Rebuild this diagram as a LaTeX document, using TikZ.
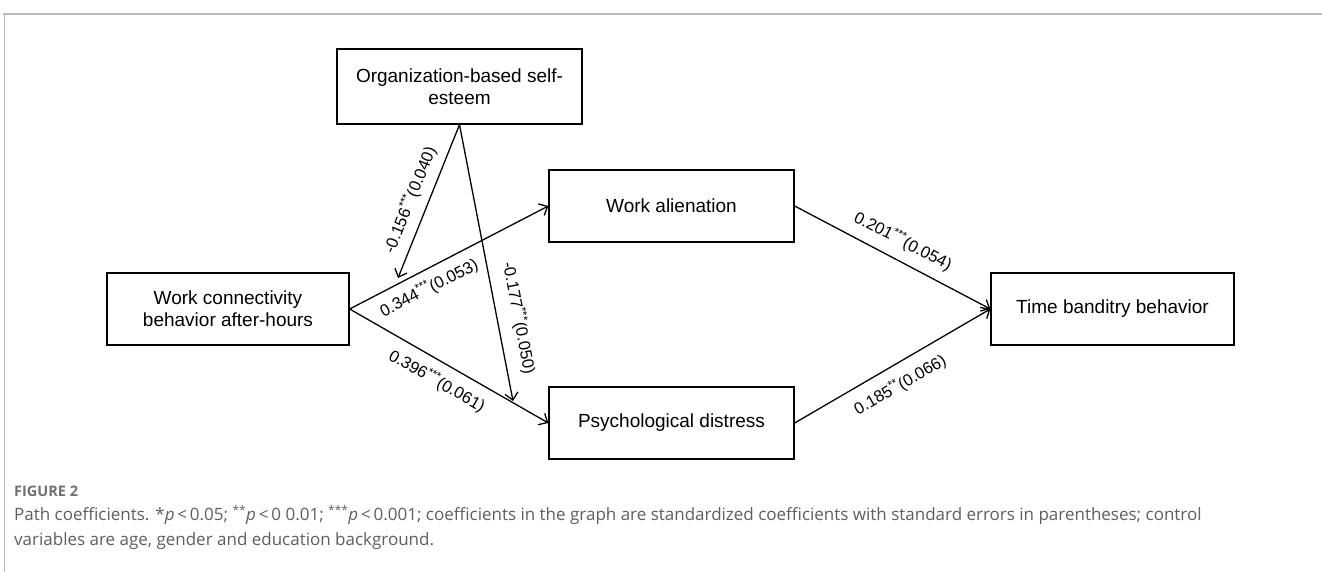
\documentclass[tikz,border=0pt]{standalone}
\usepackage{fontspec}
\setmainfont{Liberation Sans}
\newfontfamily\capfont{Open Sans}
\usetikzlibrary{arrows.meta}
\definecolor{capgray}{HTML}{5E5E5E}
\definecolor{figgray}{HTML}{707070}
\definecolor{framegray}{HTML}{BDBDBD}
\begin{document}
\begin{tikzpicture}[x=1pt,y=-1pt,
  box/.style={draw,line width=1.3pt,minimum width=#1,minimum height=72pt,inner sep=0pt,align=center,font=\fontsize{19}{22}\selectfont},
  box/.default=245pt,
  arr/.style={line width=1.3pt,-{Straight Barb[length=7pt,width=13pt,line width=1.3pt]}},
  coef/.style={font=\fontsize{16.5}{19}\selectfont,inner sep=0pt}]
\useasboundingbox (0,0) rectangle (1322,572);
\draw[framegray,line width=2pt] (3,14) -- (1322,14);
\draw[framegray,line width=0.8pt] (4,14) -- (4,572);
% nodes
\node[box=245pt,minimum height=75pt] (OB) at (459.5,86.5) {Organization-based self-\\esteem};
\node[box=242pt] (WC) at (228,309) {Work connectivity\\behavior after-hours};
\node[box] (WA) at (671.5,206) {Work alienation};
\node[box] (PD) at (671.5,423) {Psychological distress};
\node[box=243pt] (TB) at (1112.5,309) {Time banditry behavior};
\coordinate (m1) at (398,278);
\coordinate (m2) at (513,401);
% connectors
\draw[arr] (WC.east) -- (WA.west);
\draw[arr] (WC.east) -- (PD.west);
\draw[arr] (OB.south) -- (m1);
\draw[arr] (OB.south) -- (m2);
\draw[arr] (WA.east) -- (TB.west);
\draw[arr] (PD.east) -- (TB.west);
% labels
\node[coef,rotate=68] (l1) at (410,200) {-0.156\textsuperscript{***}(0.040)};
\node[coef,rotate=-79] (l2) at (519,318) {-0.177\textsuperscript{***}(0.050)};
\node[coef,rotate=27] (l3) at (429,288) {0.344\textsuperscript{***}(0.053)};
\node[coef,rotate=-29.7] (l4) at (437,381) {0.396\textsuperscript{***}(0.061)};
\node[coef,rotate=-27.4] (l5) at (903,241) {0.201\textsuperscript{***}(0.054)};
\node[coef,rotate=30] (l6) at (900,385) {0.185\textsuperscript{**}(0.066)};
% caption
\node[anchor=west,inner sep=0pt,text=figgray,font=\capfont\bfseries\fontsize{14.5}{17}\selectfont] (fig) at (14,491) {FIGURE 2};
\node[anchor=north west,inner sep=0pt,text=capgray,align=left,font=\capfont\fontsize{17}{25}\selectfont] (cap) at (14,505)
 {Path coefficients. *\textit{p}\,<\,0.05; \textsuperscript{**}\textit{p}\,<\,0 0.01; \textsuperscript{***}\textit{p}\,<\,0.001; coefficients in the graph are standardized coefficients with standard errors in parentheses; control\\variables are age, gender and education background.};
\end{tikzpicture}
\end{document}
